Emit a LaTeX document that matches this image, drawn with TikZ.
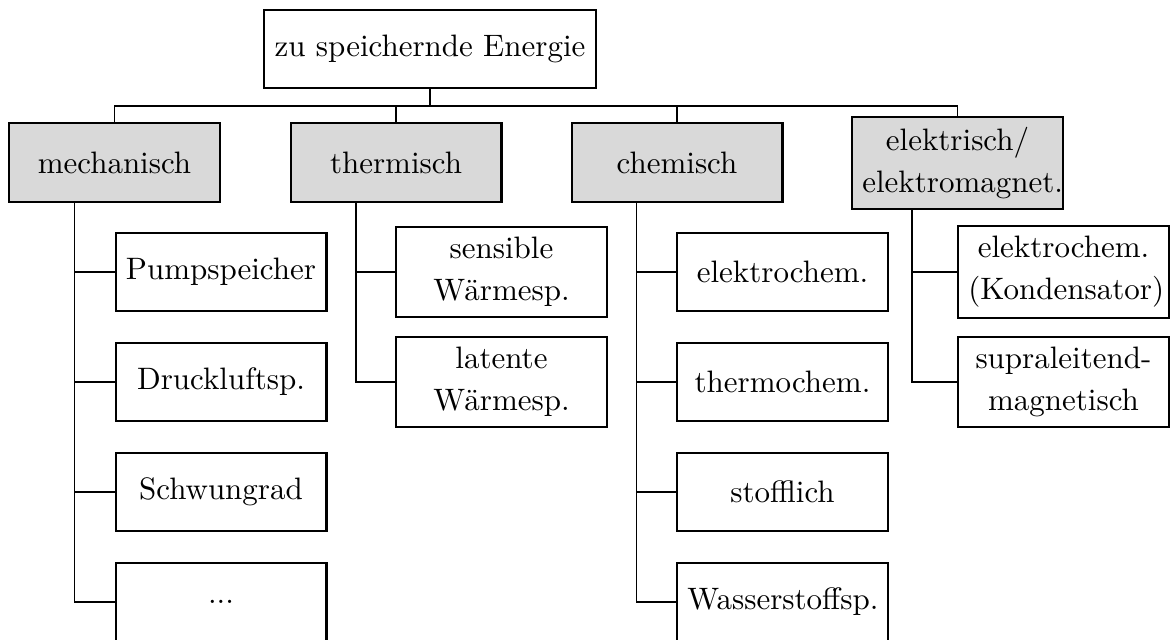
\documentclass[tikz,border=0pt]{standalone}
\begin{document}
\begin{tikzpicture}[x=0.32258pt,y=-0.32258pt,
  box/.style={draw,line width=0.65pt,font=\fontsize{10}{13.5}\selectfont,inner sep=3.33pt,text width=61.4pt,align=center,minimum height=25.2pt},
  cat/.style={box,fill=black!15},
  topbox/.style={draw,line width=0.65pt,font=\fontsize{10}{13.5}\selectfont,inner sep=3.33pt,minimum height=25.2pt},
  conn/.style={line width=0.4pt}]
\useasboundingbox (0,0) rectangle (1171,640);
% root
\node[topbox] (top) at (430,49) {zu speichernde Energie};
% categories
\node[cat] (mech)  at (114.5,162.5) {mechanisch};
\node[cat] (therm) at (396,162.5) {thermisch};
\node[cat] (chem)  at (677,162.5) {chemisch};
\node[cat] (elek)  at (957.5,163) {elektrisch/\\elektromagnet.};
% leaves
\node[box] (m1) at (221,272) {Pumpspeicher};
\node[box] (m2) at (221,382) {Druckluftsp.};
\node[box] (m3) at (221,492) {Schwungrad};
\node[box] (m4) at (221,602) {...};
\node[box] (t1) at (501.5,272) {sensible\\Wärmesp.};
\node[box] (t2) at (501.5,382) {latente\\Wärmesp.};
\node[box] (c1) at (782.5,272) {elektrochem.};
\node[box] (c2) at (782.5,382) {thermochem.};
\node[box] (c3) at (782.5,492) {stofflich};
\node[box] (c4) at (782.5,602) {Wasserstoffsp.};
\node[box] (e1) at (1063.5,272) {elektrochem.\\(Kondensator)};
\node[box] (e2) at (1063.5,382) {supraleitend-\\magnetisch};
% helper coordinates
\coordinate (bus) at (430,106);
\coordinate (mt) at (74.5,0);
\coordinate (tt) at (356,0);
\coordinate (ct) at (636.5,0);
\coordinate (et) at (912,0);
% bus
\draw[conn] (top.south) -- (top.south |- bus);
\draw[conn] (mech.north) -- (mech.north |- bus) -- (elek.north |- bus) -- (elek.north);
\draw[conn] (therm.north) -- (therm.north |- bus);
\draw[conn] (chem.north) -- (chem.north |- bus);
% trunks
\draw[conn] (mech.south -| mt) |- (m4.west);
\draw[conn] (m1.west) -- (m1.west -| mt);
\draw[conn] (m2.west) -- (m2.west -| mt);
\draw[conn] (m3.west) -- (m3.west -| mt);
\draw[conn] (therm.south -| tt) |- (t2.west);
\draw[conn] (t1.west) -- (t1.west -| tt);
\draw[conn] (chem.south -| ct) |- (c4.west);
\draw[conn] (c1.west) -- (c1.west -| ct);
\draw[conn] (c2.west) -- (c2.west -| ct);
\draw[conn] (c3.west) -- (c3.west -| ct);
\draw[conn] (elek.south -| et) |- (e2.west);
\draw[conn] (e1.west) -- (e1.west -| et);
\end{tikzpicture}
\end{document}
